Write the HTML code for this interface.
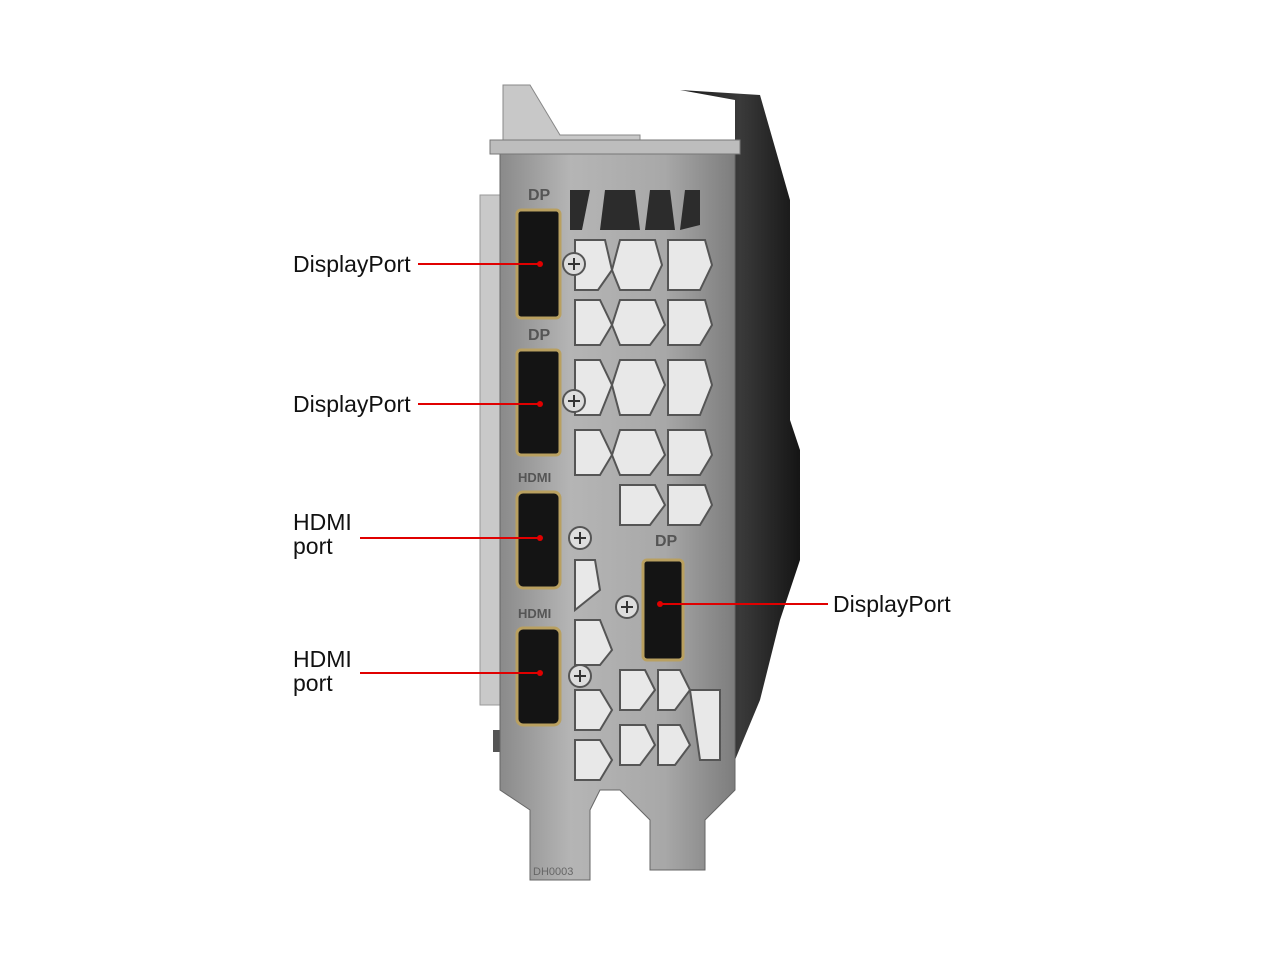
<!DOCTYPE html>
<html><head><meta charset="utf-8"><style>
html,body{margin:0;padding:0;background:#fff;width:1280px;height:960px;overflow:hidden}
svg{display:block}
text{font-family:"Liberation Sans",sans-serif;font-size:23px;fill:#111}
</style></head><body>
<svg width="1280" height="960" viewBox="0 0 1280 960">
<defs>
<linearGradient id="met" x1="0" x2="1">
<stop offset="0" stop-color="#8a8a8a"/><stop offset="0.3" stop-color="#b5b5b5"/><stop offset="0.7" stop-color="#a8a8a8"/><stop offset="1" stop-color="#7d7d7d"/>
</linearGradient>
<linearGradient id="blk" x1="0" x2="1">
<stop offset="0" stop-color="#1a1a1a"/><stop offset="0.5" stop-color="#3a3a3a"/><stop offset="1" stop-color="#151515"/>
</linearGradient>
</defs>
<polygon points="680,90 760,95 770,130 790,200 790,420 800,450 800,560 780,620 760,700 735,760 735,100" fill="url(#blk)"/>
<polygon points="503,85 530,85 560,135 640,135 640,150 503,150" fill="#c8c8c8" stroke="#888"/>
<rect x="480" y="195" width="22" height="510" fill="#c9c9c9" stroke="#999"/>
<rect x="493" y="730" width="8" height="22" fill="#555"/>
<polygon points="500,150 735,150 735,790 705,820 705,870 650,870 650,820 620,790 600,790 590,810 590,880 530,880 530,810 500,790" fill="url(#met)" stroke="#666"/>
<rect x="490" y="140" width="250" height="14" fill="#bdbdbd" stroke="#777"/>
<g fill="#2c2c2c">
<polygon points="570,190 590,190 582,230 570,230"/>
<polygon points="605,190 635,190 640,230 600,230"/>
<polygon points="650,190 670,190 675,230 645,230"/>
<polygon points="685,190 700,190 700,225 680,230"/>
</g>
<g fill="#e8e8e8" stroke="#555" stroke-width="2">
<polygon points="575,240 605,240 612,270 598,290 575,290"/>
<polygon points="620,240 655,240 662,265 650,290 620,290 612,270"/>
<polygon points="668,240 705,240 712,265 700,290 668,290"/>
<polygon points="575,300 600,300 612,325 600,345 575,345"/>
<polygon points="620,300 655,300 665,325 650,345 620,345 612,325"/>
<polygon points="668,300 705,300 712,325 700,345 668,345"/>
<polygon points="575,360 600,360 612,385 600,415 575,415"/>
<polygon points="620,360 655,360 665,385 650,415 620,415 612,385"/>
<polygon points="668,360 705,360 712,385 700,415 668,415"/>
<polygon points="575,430 600,430 612,455 600,475 575,475"/>
<polygon points="620,430 655,430 665,455 650,475 620,475 612,455"/>
<polygon points="668,430 705,430 712,455 700,475 668,475"/>
<polygon points="620,485 655,485 665,505 650,525 620,525"/>
<polygon points="668,485 705,485 712,505 700,525 668,525"/>
<polygon points="575,560 595,560 600,590 575,610"/>
<polygon points="575,620 600,620 612,650 600,665 575,665"/>
<polygon points="620,670 645,670 655,690 640,710 620,710"/>
<polygon points="658,670 680,670 690,690 675,710 658,710"/>
<polygon points="575,690 600,690 612,710 600,730 575,730"/>
<polygon points="575,740 600,740 612,760 600,780 575,780"/>
<polygon points="620,725 645,725 655,745 640,765 620,765"/>
<polygon points="658,725 680,725 690,745 675,765 658,765"/>
<polygon points="690,690 720,690 720,760 700,760"/>
</g>
<text x="528" y="200" style="font-size:16px;fill:#555;font-weight:bold">DP</text>
<text x="528" y="340" style="font-size:16px;fill:#555;font-weight:bold">DP</text>
<text x="518" y="482" style="font-size:13px;fill:#555;font-weight:bold">HDMI</text>
<text x="518" y="618" style="font-size:13px;fill:#555;font-weight:bold">HDMI</text>
<text x="655" y="546" style="font-size:16px;fill:#555;font-weight:bold">DP</text>
<text x="533" y="875" style="font-size:11px;fill:#666">DH0003</text>
<g fill="#141414" stroke="#b9a060" stroke-width="3">
<rect x="517" y="210" width="43" height="108" rx="4"/>
<rect x="517" y="350" width="43" height="105" rx="4"/>
<rect x="517" y="492" width="43" height="96" rx="6"/>
<rect x="517" y="628" width="43" height="97" rx="6"/>
<rect x="643" y="560" width="40" height="100" rx="4"/>
</g>
<g fill="#ddd" stroke="#555" stroke-width="2">
<circle cx="574" cy="264" r="11"/><circle cx="574" cy="401" r="11"/>
<circle cx="580" cy="538" r="11"/><circle cx="580" cy="676" r="11"/>
<circle cx="627" cy="607" r="11"/>
</g>
<g stroke="#333" stroke-width="2">
<path d="M568 264h12M574 258v12M568 401h12M574 395v12M574 538h12M580 532v12M574 676h12M580 670v12M621 607h12M627 601v12"/>
</g>
<g stroke="#e00000" stroke-width="2">
<line x1="418" y1="264" x2="540" y2="264"/>
<line x1="418" y1="404" x2="540" y2="404"/>
<line x1="360" y1="538" x2="540" y2="538"/>
<line x1="360" y1="673" x2="540" y2="673"/>
<line x1="660" y1="604" x2="828" y2="604"/>
</g>
<g fill="#e00000">
<circle cx="540" cy="264" r="3"/><circle cx="540" cy="404" r="3"/>
<circle cx="540" cy="538" r="3"/><circle cx="540" cy="673" r="3"/>
<circle cx="660" cy="604" r="3"/>
</g>
<text x="293" y="272">DisplayPort</text>
<text x="293" y="412">DisplayPort</text>
<text x="293" y="530">HDMI</text>
<text x="293" y="554">port</text>
<text x="293" y="667">HDMI</text>
<text x="293" y="691">port</text>
<text x="833" y="612">DisplayPort</text>
</svg>
</body></html>
